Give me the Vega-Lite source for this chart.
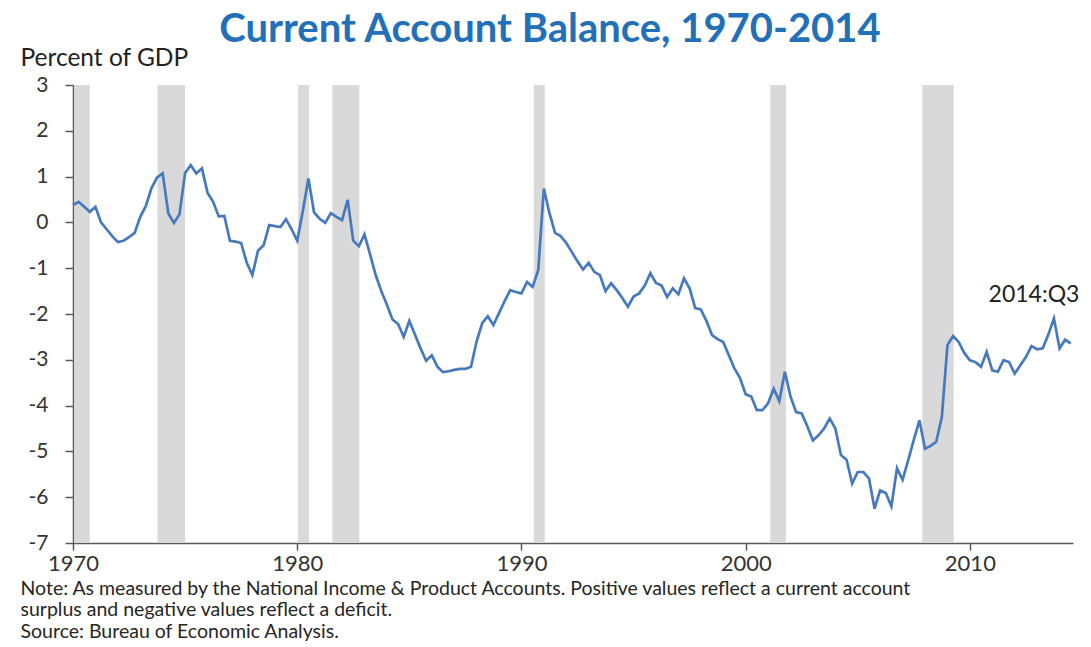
{
  "$schema": "https://vega.github.io/schema/vega-lite/v6.json",
  "width": 1000,
  "height": 458,
  "autosize": {"type": "none"},
  "padding": {"left": 73, "top": 85, "right": 18, "bottom": 104},
  "background": "white",
  "config": {"view": {"stroke": null}, "font": "Lato"},
  "title": {
    "text": "Current Account Balance, 1970-2014",
    "font": "Lato",
    "fontSize": 40,
    "fontWeight": "bold",
    "color": "#2271B8",
    "anchor": "middle",
    "frame": "group",
    "baseline": "alphabetic",
    "offset": -37,
    "dx": -23
  },
  "datasets": {
    "cab": [
      {"year": 1970.00, "value": 0.38}, {"year": 1970.25, "value": 0.45}, {"year": 1970.50, "value": 0.34}, {"year": 1970.75, "value": 0.23},
      {"year": 1971.00, "value": 0.34}, {"year": 1971.25, "value": 0.00}, {"year": 1971.50, "value": -0.15}, {"year": 1971.75, "value": -0.30},
      {"year": 1972.00, "value": -0.43}, {"year": 1972.25, "value": -0.40}, {"year": 1972.50, "value": -0.32}, {"year": 1972.75, "value": -0.23},
      {"year": 1973.00, "value": 0.12}, {"year": 1973.25, "value": 0.36}, {"year": 1973.50, "value": 0.75}, {"year": 1973.75, "value": 0.98},
      {"year": 1974.00, "value": 1.07}, {"year": 1974.25, "value": 0.20}, {"year": 1974.50, "value": -0.01}, {"year": 1974.75, "value": 0.18},
      {"year": 1975.00, "value": 1.08}, {"year": 1975.25, "value": 1.25}, {"year": 1975.50, "value": 1.07}, {"year": 1975.75, "value": 1.18},
      {"year": 1976.00, "value": 0.65}, {"year": 1976.25, "value": 0.45}, {"year": 1976.50, "value": 0.13}, {"year": 1976.75, "value": 0.14},
      {"year": 1977.00, "value": -0.40}, {"year": 1977.25, "value": -0.42}, {"year": 1977.50, "value": -0.45}, {"year": 1977.75, "value": -0.88},
      {"year": 1978.00, "value": -1.15}, {"year": 1978.25, "value": -0.62}, {"year": 1978.50, "value": -0.50}, {"year": 1978.75, "value": -0.06},
      {"year": 1979.00, "value": -0.08}, {"year": 1979.25, "value": -0.10}, {"year": 1979.50, "value": 0.07}, {"year": 1979.75, "value": -0.15},
      {"year": 1980.00, "value": -0.40}, {"year": 1980.25, "value": 0.25}, {"year": 1980.50, "value": 0.96}, {"year": 1980.75, "value": 0.22},
      {"year": 1981.00, "value": 0.08}, {"year": 1981.25, "value": -0.01}, {"year": 1981.50, "value": 0.20}, {"year": 1981.75, "value": 0.12},
      {"year": 1982.00, "value": 0.05}, {"year": 1982.25, "value": 0.49}, {"year": 1982.50, "value": -0.40}, {"year": 1982.75, "value": -0.52},
      {"year": 1983.00, "value": -0.26}, {"year": 1983.25, "value": -0.70}, {"year": 1983.50, "value": -1.15}, {"year": 1983.75, "value": -1.50},
      {"year": 1984.00, "value": -1.80}, {"year": 1984.25, "value": -2.12}, {"year": 1984.50, "value": -2.22}, {"year": 1984.75, "value": -2.50},
      {"year": 1985.00, "value": -2.15}, {"year": 1985.25, "value": -2.45}, {"year": 1985.50, "value": -2.75}, {"year": 1985.75, "value": -3.02},
      {"year": 1986.00, "value": -2.90}, {"year": 1986.25, "value": -3.15}, {"year": 1986.50, "value": -3.27}, {"year": 1986.75, "value": -3.25},
      {"year": 1987.00, "value": -3.22}, {"year": 1987.25, "value": -3.20}, {"year": 1987.50, "value": -3.20}, {"year": 1987.75, "value": -3.15},
      {"year": 1988.00, "value": -2.60}, {"year": 1988.25, "value": -2.20}, {"year": 1988.50, "value": -2.05}, {"year": 1988.75, "value": -2.24},
      {"year": 1989.00, "value": -1.98}, {"year": 1989.25, "value": -1.72}, {"year": 1989.50, "value": -1.48}, {"year": 1989.75, "value": -1.52},
      {"year": 1990.00, "value": -1.55}, {"year": 1990.25, "value": -1.30}, {"year": 1990.50, "value": -1.41}, {"year": 1990.75, "value": -1.04},
      {"year": 1991.00, "value": 0.74}, {"year": 1991.25, "value": 0.20}, {"year": 1991.50, "value": -0.23}, {"year": 1991.75, "value": -0.30},
      {"year": 1992.00, "value": -0.45}, {"year": 1992.25, "value": -0.65}, {"year": 1992.50, "value": -0.85}, {"year": 1992.75, "value": -1.03},
      {"year": 1993.00, "value": -0.88}, {"year": 1993.25, "value": -1.08}, {"year": 1993.50, "value": -1.15}, {"year": 1993.75, "value": -1.50},
      {"year": 1994.00, "value": -1.33}, {"year": 1994.25, "value": -1.48}, {"year": 1994.50, "value": -1.65}, {"year": 1994.75, "value": -1.84},
      {"year": 1995.00, "value": -1.62}, {"year": 1995.25, "value": -1.55}, {"year": 1995.50, "value": -1.38}, {"year": 1995.75, "value": -1.11},
      {"year": 1996.00, "value": -1.32}, {"year": 1996.25, "value": -1.38}, {"year": 1996.50, "value": -1.63}, {"year": 1996.75, "value": -1.44},
      {"year": 1997.00, "value": -1.57}, {"year": 1997.25, "value": -1.22}, {"year": 1997.50, "value": -1.44}, {"year": 1997.75, "value": -1.87},
      {"year": 1998.00, "value": -1.90}, {"year": 1998.25, "value": -2.15}, {"year": 1998.50, "value": -2.46}, {"year": 1998.75, "value": -2.55},
      {"year": 1999.00, "value": -2.61}, {"year": 1999.25, "value": -2.90}, {"year": 1999.50, "value": -3.19}, {"year": 1999.75, "value": -3.40},
      {"year": 2000.00, "value": -3.75}, {"year": 2000.25, "value": -3.80}, {"year": 2000.50, "value": -4.10}, {"year": 2000.75, "value": -4.10},
      {"year": 2001.00, "value": -3.95}, {"year": 2001.25, "value": -3.63}, {"year": 2001.50, "value": -3.90}, {"year": 2001.75, "value": -3.26},
      {"year": 2002.00, "value": -3.80}, {"year": 2002.25, "value": -4.14}, {"year": 2002.50, "value": -4.17}, {"year": 2002.75, "value": -4.45},
      {"year": 2003.00, "value": -4.76}, {"year": 2003.25, "value": -4.65}, {"year": 2003.50, "value": -4.50}, {"year": 2003.75, "value": -4.28},
      {"year": 2004.00, "value": -4.50}, {"year": 2004.25, "value": -5.08}, {"year": 2004.50, "value": -5.18}, {"year": 2004.75, "value": -5.70},
      {"year": 2005.00, "value": -5.45}, {"year": 2005.25, "value": -5.45}, {"year": 2005.50, "value": -5.59}, {"year": 2005.75, "value": -6.25},
      {"year": 2006.00, "value": -5.85}, {"year": 2006.25, "value": -5.91}, {"year": 2006.50, "value": -6.20}, {"year": 2006.75, "value": -5.37},
      {"year": 2007.00, "value": -5.62}, {"year": 2007.25, "value": -5.19}, {"year": 2007.50, "value": -4.75}, {"year": 2007.75, "value": -4.32},
      {"year": 2008.00, "value": -4.94}, {"year": 2008.25, "value": -4.88}, {"year": 2008.50, "value": -4.79}, {"year": 2008.75, "value": -4.25},
      {"year": 2009.00, "value": -2.68}, {"year": 2009.25, "value": -2.48}, {"year": 2009.50, "value": -2.61}, {"year": 2009.75, "value": -2.85},
      {"year": 2010.00, "value": -3.01}, {"year": 2010.25, "value": -3.05}, {"year": 2010.50, "value": -3.15}, {"year": 2010.75, "value": -2.83},
      {"year": 2011.00, "value": -3.23}, {"year": 2011.25, "value": -3.26}, {"year": 2011.50, "value": -3.01}, {"year": 2011.75, "value": -3.05},
      {"year": 2012.00, "value": -3.30}, {"year": 2012.25, "value": -3.12}, {"year": 2012.50, "value": -2.94}, {"year": 2012.75, "value": -2.70},
      {"year": 2013.00, "value": -2.77}, {"year": 2013.25, "value": -2.75}, {"year": 2013.50, "value": -2.45}, {"year": 2013.75, "value": -2.10},
      {"year": 2014.00, "value": -2.75}, {"year": 2014.25, "value": -2.56}, {"year": 2014.50, "value": -2.64}
    ],
    "recessions": [
      {"start": 1970.05, "end": 1970.75},
      {"start": 1973.77, "end": 1975.0},
      {"start": 1980.04, "end": 1980.53},
      {"start": 1981.57, "end": 1982.77},
      {"start": 1990.55, "end": 1991.04},
      {"start": 2001.1, "end": 2001.8},
      {"start": 2007.88, "end": 2009.28}
    ],
    "labels": [
      {"year": 2012.86, "value": -1.59, "label": "2014:Q3"}
    ]
  },
  "layer": [
    {
      "data": {"name": "recessions"},
      "mark": {"type": "rect", "color": "#D9D9D9"},
      "encoding": {
        "x": {
          "field": "start",
          "type": "quantitative",
          "scale": {"domain": [1970, 2014.6], "nice": false, "zero": false},
          "axis": {
            "values": [1970, 1980, 1990, 2000, 2010],
            "format": "d",
            "grid": false,
            "labelFlush": false,
            "domainColor": "#595959",
            "domainWidth": 1.5,
            "tickColor": "#595959",
            "tickSize": 7,
            "tickWidth": 1.5,
            "labelFont": "Lato",
            "labelFontSize": 22,
            "labelColor": "#333333",
            "labelPadding": 3,
            "title": [
              "Note: As measured by the National Income & Product Accounts. Positive values reflect a current account",
              "surplus and negative values reflect a deficit.",
              "Source: Bureau of Economic Analysis."
            ],
            "titleFont": "Lato",
            "titleFontSize": 19.5,
            "titleFontWeight": "normal",
            "titleColor": "#262626",
            "titleAlign": "left",
            "titleBaseline": "top",
            "titleX": -53,
            "titleY": 36,
            "titleLineHeight": 21.5
          }
        },
        "x2": {"field": "end"}
      }
    },
    {
      "mark": {"type": "rule", "color": "#7F7F7F", "strokeWidth": 1.5},
      "encoding": {
        "y": {
          "datum": 0,
          "type": "quantitative",
          "scale": {"domain": [-7, 3], "nice": false, "zero": false},
          "axis": {
            "values": [-7, -6, -5, -4, -3, -2, -1, 0, 1, 2, 3],
            "labelExpr": "toString(datum.value)",
            "grid": false,
            "domainColor": "#595959",
            "domainWidth": 1.5,
            "tickColor": "#595959",
            "tickSize": 8,
            "tickWidth": 1.5,
            "labelFont": "Lato",
            "labelFontSize": 21,
            "labelColor": "#333333",
            "labelPadding": 17,
            "title": "Percent of GDP",
            "titleFont": "Lato",
            "titleFontSize": 24.5,
            "titleFontWeight": "normal",
            "titleColor": "#222222",
            "titleAngle": 0,
            "titleAlign": "left",
            "titleBaseline": "middle",
            "titleX": -53,
            "titleY": -27
          }
        }
      }
    },
    {
      "data": {"name": "cab"},
      "mark": {"type": "line", "color": "#4679BD", "strokeWidth": 2.7},
      "encoding": {
        "x": {"field": "year", "type": "quantitative"},
        "y": {"field": "value", "type": "quantitative"}
      }
    },
    {
      "data": {"name": "labels"},
      "mark": {"type": "text", "font": "Lato", "fontSize": 23, "color": "#222222", "align": "center", "baseline": "middle"},
      "encoding": {
        "x": {"field": "year", "type": "quantitative"},
        "y": {"field": "value", "type": "quantitative"},
        "text": {"field": "label"}
      }
    }
  ]
}
